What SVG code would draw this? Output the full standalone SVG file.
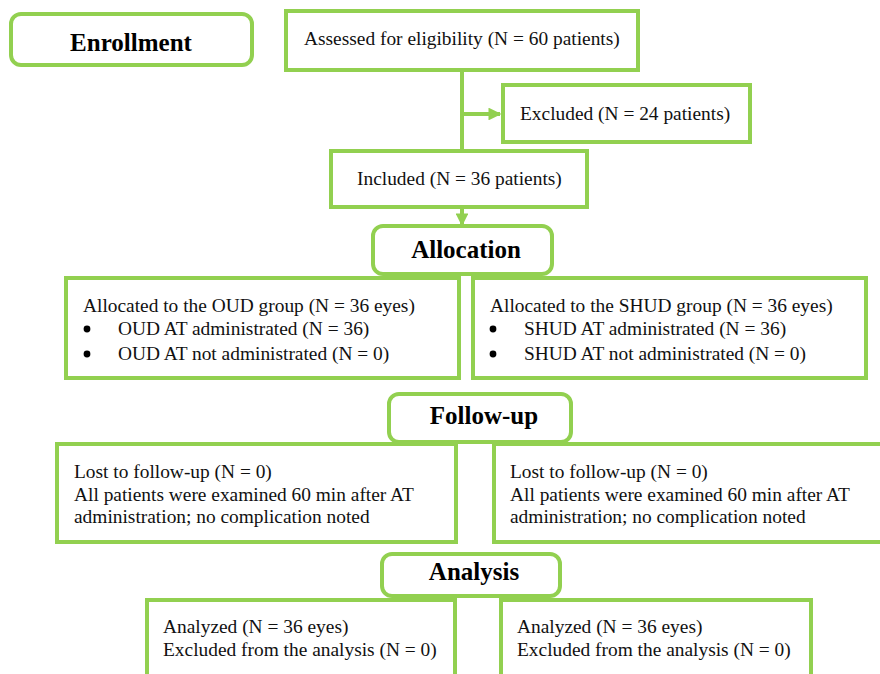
<svg xmlns="http://www.w3.org/2000/svg" width="880" height="674" viewBox="0 0 880 674">
<defs>
<style>
.box{fill:#fff;stroke:#92d050;stroke-width:4}
.t{font-family:"Liberation Serif","Times New Roman",serif;font-size:19.4px;fill:#111}
.h{font-family:"Liberation Serif","Times New Roman",serif;font-size:25px;font-weight:bold;fill:#000;text-anchor:middle}
.c{stroke:#92d050;stroke-width:4;fill:none}
.b{fill:#000}
</style>
<marker id="ah" viewBox="0 0 10 10" refX="9" refY="5" markerWidth="3.2" markerHeight="3.2" orient="auto" markerUnits="strokeWidth">
<path d="M0,0 L10,5 L0,10 Z" fill="#92d050"/>
</marker>
</defs>
<rect width="880" height="674" fill="#fff"/>
<g id="connectors">
<line class="c" x1="462" y1="70" x2="462" y2="150"/>
<line class="c" x1="462" y1="114" x2="500" y2="114" marker-end="url(#ah)"/>
<line class="c" x1="462" y1="208" x2="462" y2="225" marker-end="url(#ah)"/>
</g>
<g id="enrollment"><rect class="box" x="11" y="14" width="241" height="51" rx="10"/><text class="h" x="131" y="51">Enrollment</text></g>
<g id="assessed"><rect class="box" x="286" y="11" width="352" height="59"/><text class="t" x="304" y="45">Assessed for eligibility (N = 60 patients)</text></g>
<g id="excluded"><rect class="box" x="503" y="85" width="247" height="57"/><text class="t" x="520" y="120">Excluded (N = 24 patients)</text></g>
<g id="included"><rect class="box" x="331" y="151" width="256" height="56"/><text class="t" x="357" y="185">Included (N = 36 patients)</text></g>
<g id="allocation"><rect class="box" x="373" y="226" width="179" height="48" rx="10"/><text class="h" x="466" y="258">Allocation</text></g>
<g id="oud"><rect class="box" x="66" y="278" width="393" height="100"/>
<text class="t" x="83" y="312">Allocated to the OUD group (N = 36 eyes)</text>
<circle class="b" cx="87" cy="329" r="3.4"/><text class="t" x="118" y="335">OUD AT administrated (N = 36)</text>
<circle class="b" cx="87" cy="354" r="3.4"/><text class="t" x="118" y="360">OUD AT not administrated (N = 0)</text></g>
<g id="shud"><rect class="box" x="473" y="278" width="393" height="100"/>
<text class="t" x="490" y="312">Allocated to the SHUD group (N = 36 eyes)</text>
<circle class="b" cx="493" cy="329" r="3.4"/><text class="t" x="524" y="335">SHUD AT administrated (N = 36)</text>
<circle class="b" cx="493" cy="354" r="3.4"/><text class="t" x="524" y="360">SHUD AT not administrated (N = 0)</text></g>
<g id="followup"><rect class="box" x="389" y="394" width="182" height="48" rx="10"/><text class="h" x="484" y="424">Follow-up</text></g>
<g id="follow-left"><rect class="box" x="57" y="444" width="399" height="98"/>
<text class="t" x="74" y="478">Lost to follow-up (N = 0)</text>
<text class="t" x="74" y="501">All patients were examined 60 min after AT</text>
<text class="t" x="74" y="523">administration; no complication noted</text></g>
<g id="follow-right"><rect class="box" x="494" y="444" width="392" height="98"/>
<text class="t" x="510" y="478">Lost to follow-up (N = 0)</text>
<text class="t" x="510" y="501">All patients were examined 60 min after AT</text>
<text class="t" x="510" y="523">administration; no complication noted</text></g>
<g id="analysis"><rect class="box" x="382" y="554" width="178" height="42" rx="10"/><text class="h" x="474" y="580">Analysis</text></g>
<g id="analyzed-left"><rect class="box" x="147" y="600" width="308" height="90"/>
<text class="t" x="163" y="633">Analyzed (N = 36 eyes)</text>
<text class="t" x="163" y="656">Excluded from the analysis (N = 0)</text></g>
<g id="analyzed-right"><rect class="box" x="501" y="600" width="310" height="90"/>
<text class="t" x="517" y="633">Analyzed (N = 36 eyes)</text>
<text class="t" x="517" y="656">Excluded from the analysis (N = 0)</text></g>
</svg>
